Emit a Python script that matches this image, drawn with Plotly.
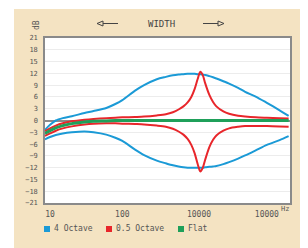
import plotly.graph_objects as go

# ---- data ----
freq = [8.5, 10, 12, 15, 20, 30, 40, 60, 80, 100, 150, 200, 300, 400, 500, 600, 700,
        800, 900, 1000, 1100, 1200, 1300, 1400, 1600, 1800, 2000, 2500, 3000, 4000,
        5000, 7000, 10000, 15000, 20000]

oct4_boost = [-2.4, -1.1, 0.0, 0.6, 1.1, 1.9, 2.4, 3.2, 4.2, 5.2, 7.6, 9.0, 10.5, 11.1,
              11.5, 11.7, 11.8, 11.9, 11.9, 11.9, 11.8, 11.8, 11.7, 11.6, 11.3, 11.0,
              10.7, 10.0, 9.4, 8.3, 7.3, 6.1, 4.5, 2.6, 1.2]
oct4_cut = [-4.8, -4.2, -3.7, -3.3, -3.0, -2.8, -3.0, -3.6, -4.4, -5.2, -7.4, -8.8, -10.2,
            -10.9, -11.4, -11.7, -11.9, -12.0, -12.0, -12.0, -12.0, -12.0, -12.0, -11.9,
            -11.8, -11.7, -11.6, -11.1, -10.6, -9.7, -8.9, -7.6, -6.2, -5.0, -4.0]
oct05_boost = [-2.7, -2.0, -1.3, -0.7, -0.2, 0.2, 0.4, 0.6, 0.7, 0.8, 0.9, 1.0, 1.3, 1.6,
               2.1, 2.8, 3.6, 4.6, 6.0, 8.0, 10.5, 12.4, 11.5, 9.5, 6.5, 4.7, 3.6, 2.3,
               1.7, 1.2, 1.0, 0.8, 0.7, 0.6, 0.5]
oct05_cut = [-3.9, -3.3, -2.6, -2.0, -1.5, -1.0, -0.8, -0.7, -0.7, -0.8, -0.9, -1.0, -1.3,
             -1.6, -2.1, -2.8, -3.6, -4.7, -6.2, -8.3, -11.0, -13.0, -12.0, -10.0, -6.8,
             -4.9, -3.8, -2.6, -2.0, -1.6, -1.4, -1.4, -1.4, -1.5, -1.6]
flat = [-3.3, -2.6, -1.9, -1.3, -0.8, -0.4, -0.2, -0.1, 0.0, 0.0, 0.0, 0.0, 0.0, 0.0, 0.0,
        0.0, 0.0, 0.0, 0.0, 0.0, 0.0, 0.0, 0.0, 0.0, 0.0, 0.0, 0.0, 0.0, 0.0, 0.0, 0.0,
        0.0, 0.0, 0.0, 0.0]

series_names = ["4 Octave", "0.5 Octave", "Flat"]
series_colors = ["#1b9ad6", "#e8262b", "#1fa05a"]

x_tickvals = [10, 100, 1150, 10000]
x_ticktext = ["10", "100", "10000", "10000"]
y_tickvals = list(range(-21, 22, 3))

FONT = "DejaVu Sans Mono"
TXT = "#555555"

OFF = 8  # page body margin
W, H = 300, 240
L, R, T, B = 37, 18, 30, 45
pw, ph = W - L - R, H - T - B


def px(sx):
    return (sx - OFF - L) / pw


def py(sy):
    return (H - B - (sy - OFF)) / ph


fig = go.Figure()
for yv in (oct4_boost, oct4_cut):
    fig.add_trace(go.Scatter(x=freq, y=yv, mode="lines", showlegend=False,
                             line=dict(color=series_colors[0], width=2, shape="spline", smoothing=0.8)))
for yv in (oct05_boost, oct05_cut):
    fig.add_trace(go.Scatter(x=freq, y=yv, mode="lines", showlegend=False,
                             line=dict(color=series_colors[1], width=2, shape="spline", smoothing=0.8)))
fig.add_trace(go.Scatter(x=freq, y=flat, mode="lines", showlegend=False,
                         line=dict(color=series_colors[2], width=3, shape="spline", smoothing=0.8)))

BEIGE = "#f4e3c2"
shapes = []
shapes.append(dict(type="rect", xref="paper", yref="paper", x0=px(14), x1=px(320),
                   y0=py(260), y1=py(9), fillcolor=BEIGE, line=dict(width=0), layer="below"))
shapes.append(dict(type="rect", xref="paper", yref="paper", x0=0, x1=1, y0=0, y1=1,
                   fillcolor="white", line=dict(width=0), layer="below"))
ay = py(23.5)
shapes.append(dict(type="line", xref="paper", yref="paper", x0=px(103), x1=px(118), y0=ay, y1=ay,
                   line=dict(color="#444", width=1)))
shapes.append(dict(type="path", xref="paper", yref="paper",
                   path=f"M {px(97)} {ay} L {px(103)} {py(21)} L {px(103)} {py(26)} Z",
                   line=dict(color="#444", width=1), fillcolor=BEIGE))
shapes.append(dict(type="line", xref="paper", yref="paper", x0=px(203), x1=px(218), y0=ay, y1=ay,
                   line=dict(color="#444", width=1)))
shapes.append(dict(type="path", xref="paper", yref="paper",
                   path=f"M {px(224)} {ay} L {px(218)} {py(21)} L {px(218)} {py(26)} Z",
                   line=dict(color="#444", width=1), fillcolor=BEIGE))

annotations = [
    dict(text="WIDTH", xref="paper", yref="paper", x=px(161), y=py(24), showarrow=False,
         font=dict(family=FONT, size=9, color="#444"), xanchor="center", yanchor="middle"),
    dict(text="dB", xref="paper", yref="paper", x=px(37), y=py(25), showarrow=False, textangle=-90,
         font=dict(family=FONT, size=8, color=TXT), xanchor="center", yanchor="middle"),
    dict(text="Hz", xref="paper", yref="paper", x=px(285), y=py(209), showarrow=False,
         font=dict(family=FONT, size=7, color=TXT), xanchor="center", yanchor="middle"),
]

leg_x = [44, 106, 178]
for name, col, lx in zip(series_names, series_colors, leg_x):
    shapes.append(dict(type="rect", xref="paper", yref="paper", x0=px(lx), x1=px(lx + 6),
                       y0=py(232), y1=py(226), fillcolor=col, line=dict(width=0)))
    annotations.append(dict(text=name, xref="paper", yref="paper", x=px(lx + 8), y=py(229),
                            showarrow=False, xanchor="left", yanchor="middle",
                            font=dict(family=FONT, size=8, color=TXT)))

fig.update_layout(
    width=W, height=H,
    margin=dict(l=L, r=R, t=T, b=B, autoexpand=False),
    paper_bgcolor="white", plot_bgcolor="rgba(0,0,0,0)",
    shapes=shapes, annotations=annotations, showlegend=False,
    font=dict(family=FONT, size=8, color=TXT),
)
fig.update_xaxes(type="log", range=[0.93, 4.32], tickvals=x_tickvals, ticktext=x_ticktext,
                 showgrid=False, zeroline=False, showline=True, mirror=True,
                 linecolor="#8a8a8a", linewidth=1.5, ticks="", ticklabelstandoff=3,
                 tickfont=dict(family=FONT, size=8, color=TXT), fixedrange=True)
fig.update_yaxes(range=[-21, 21], tickvals=y_tickvals, showgrid=True, gridcolor="#ececec",
                 gridwidth=1, zeroline=True, zerolinecolor="#8a8a8a", zerolinewidth=1.5,
                 showline=True, mirror=True, linecolor="#8a8a8a", linewidth=1.5, ticks="",
                 ticklabelstandoff=4, tickfont=dict(family=FONT, size=7, color=TXT), fixedrange=True)

fig.write_html("out.html")
